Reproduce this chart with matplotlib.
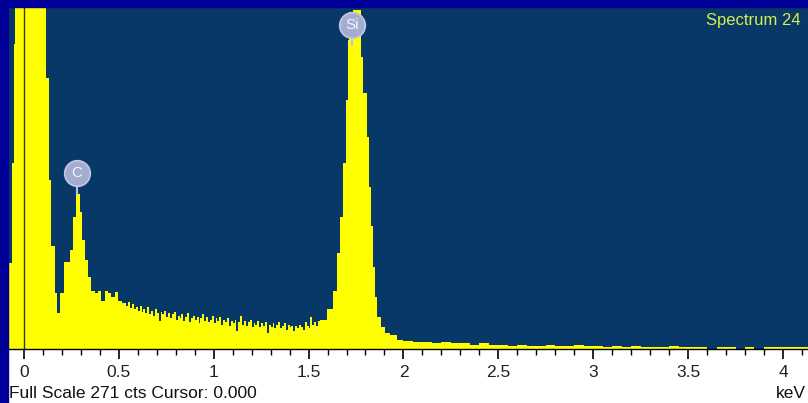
import numpy as np
import matplotlib
matplotlib.use("Agg")
import matplotlib.pyplot as plt
from matplotlib.patches import Rectangle
from matplotlib.ticker import MultipleLocator

plt.rcParams["font.family"] = ["Liberation Sans", "DejaVu Sans"]

# ---- spectrum (left edge of each step in keV, counts) ----
# low-energy noise peak + C K-alpha
e_low = [-0.084, -0.063, -0.053, -0.047, 0.116, 0.134, 0.142, 0.163, 0.174, 0.190,
         0.211, 0.242, 0.258, 0.274, 0.295, 0.306, 0.321, 0.337, 0.353, 0.374,
         0.390, 0.406, 0.427, 0.443, 0.458, 0.480, 0.495, 0.515]
c_low = [68, 147, 242, 900, 215, 134, 81, 44, 28, 44,
         69, 78, 104, 123, 108, 86, 70, 57, 46, 44,
         46, 38, 46, 44, 41, 45, 38, 36]

# bremsstrahlung background between C and Si, 10 eV channels from 0.53 keV
e_bg_start, e_bg_step = 0.53, 0.01
c_bg = [36, 34, 37, 32, 35, 31, 33, 30, 34, 29,
        31, 28, 33, 27, 30, 26, 31, 28, 22, 29,
        27, 30, 25, 28, 24, 27, 29, 23, 26, 24,
        27, 22, 25, 28, 21, 24, 26, 23, 25, 20,
        24, 27, 22, 25, 21, 23, 26, 20, 24, 22,
        25, 19, 23, 21, 24, 18, 22, 20, 23, 14,
        21, 26, 19, 22, 18, 21, 23, 17, 20, 19,
        22, 17, 20, 18, 21, 12, 19, 17, 20, 16,
        19, 21, 16, 18, 20, 15, 19, 17, 18, 14,
        18, 16, 19, 17, 15, 21, 18, 16, 25, 19,
        21, 18, 22]

# Si K-alpha peak
e_si = [1.56, 1.597, 1.628, 1.650, 1.665, 1.681, 1.697, 1.707, 1.713, 1.734,
        1.776, 1.787, 1.808, 1.818, 1.829, 1.839, 1.850, 1.860, 1.881, 1.903,
        1.929, 1.966]
c_si = [23, 31, 46, 76, 104, 147, 197, 245, 267, 269,
        231, 203, 168, 128, 97, 65, 41, 25, 17, 12,
        11, 7]

# high-energy tail
e_tail = [2.00, 2.05, 2.10, 2.15, 2.20, 2.25, 2.30, 2.35, 2.40, 2.45,
          2.50, 2.55, 2.60, 2.65, 2.70, 2.75, 2.80, 2.85, 2.90, 2.95,
          3.00, 3.05, 3.10, 3.15, 3.20, 3.25, 3.30, 3.35, 3.40, 3.45,
          3.50, 3.55, 3.60, 3.65, 3.70, 3.75, 3.80, 3.85, 3.90, 3.95,
          4.00, 4.05, 4.10, 4.15]
c_tail = [6, 5, 5, 4, 5, 4, 4, 3, 4, 3,
          3, 2, 3, 2, 2, 3, 2, 2, 3, 2,
          2, 1, 2, 1, 2, 1, 1, 1, 2, 1,
          1, 1, 0, 1, 1, 0, 1, 0, 1, 1,
          1, 1, 1, 1]

FULL_SCALE = 271
peak_labels = ["C", "Si"]
peak_pos = [(0.278, 139), (1.729, 257)]
tick_vals = [0, 0.5, 1, 1.5, 2, 2.5, 3, 3.5, 4]
tick_text = ["0", "0.5", "1", "1.5", "2", "2.5", "3", "3.5", "4"]

e_bg = list(np.round(e_bg_start + e_bg_step * np.arange(len(c_bg)), 3))
energy = np.array(e_low + e_bg + e_si + e_tail)
counts = np.array(c_low + c_bg + c_si + c_tail, dtype=float)

# ---- figure ----
W, H = 808, 403
fig = plt.figure(figsize=(W / 100, H / 100), dpi=100, facecolor="white")
ax = fig.add_axes([8 / W, (H - 348.5) / H, 800 / W, 341.5 / H])
ax.set_facecolor("#083868")

ax.fill_between(energy, counts, step="post", color="#ffff00", lw=0)
ax.axvline(0, color="#3a3a20", lw=1.0)

ax.set_xlim(-0.084, 4.132)
ax.set_ylim(0, FULL_SCALE)
ax.set_yticks([])
for s in ["top", "right", "left"]:
    ax.spines[s].set_visible(False)
ax.spines["bottom"].set_color("black")
ax.spines["bottom"].set_linewidth(1.0)

ax.xaxis.set_minor_locator(MultipleLocator(0.1))
ax.set_xticks(tick_vals)
ax.set_xticklabels(tick_text)
ax.tick_params(axis="x", which="major", length=7, width=1.2, color="black",
               labelsize=12.5, pad=5, labelcolor="#222222")
ax.tick_params(axis="x", which="minor", length=4, width=1.0, color="black")

for lab, (px, py) in zip(peak_labels, peak_pos):
    ax.plot([px, px], [py - 16, py], color="#c0c4e0", lw=1.5, zorder=4)
    ax.scatter([px], [py], s=340, color="#a4acd0", edgecolors="#c4c8e4",
               linewidths=1.2, zorder=5)
    ax.text(px, py, lab, ha="center", va="center", color="#f4f4ff", fontsize=11,
            zorder=6)

ax.text(0.991, 0.96, "Spectrum 24", transform=ax.transAxes, ha="right", va="center",
        color="#d6ee50", fontsize=12)

# frame: blue border on the left and top
fig.patches.append(Rectangle((0, 0), 8 / W, 1, transform=fig.transFigure,
                             color="#000099", zorder=10))
fig.patches.append(Rectangle((0, 1 - 7 / H), 1, 7 / H, transform=fig.transFigure,
                             color="#000099", zorder=10))

fig.text(9 / W, 1 - 394 / H, "Full Scale 271 cts Cursor: 0.000", ha="left",
         va="center", fontsize=12.5, color="#111111")
fig.text(806 / W, 1 - 394 / H, "keV", ha="right", va="center", fontsize=12.5,
         color="#111111")

fig.savefig("out.png", dpi=100, facecolor=fig.get_facecolor())
